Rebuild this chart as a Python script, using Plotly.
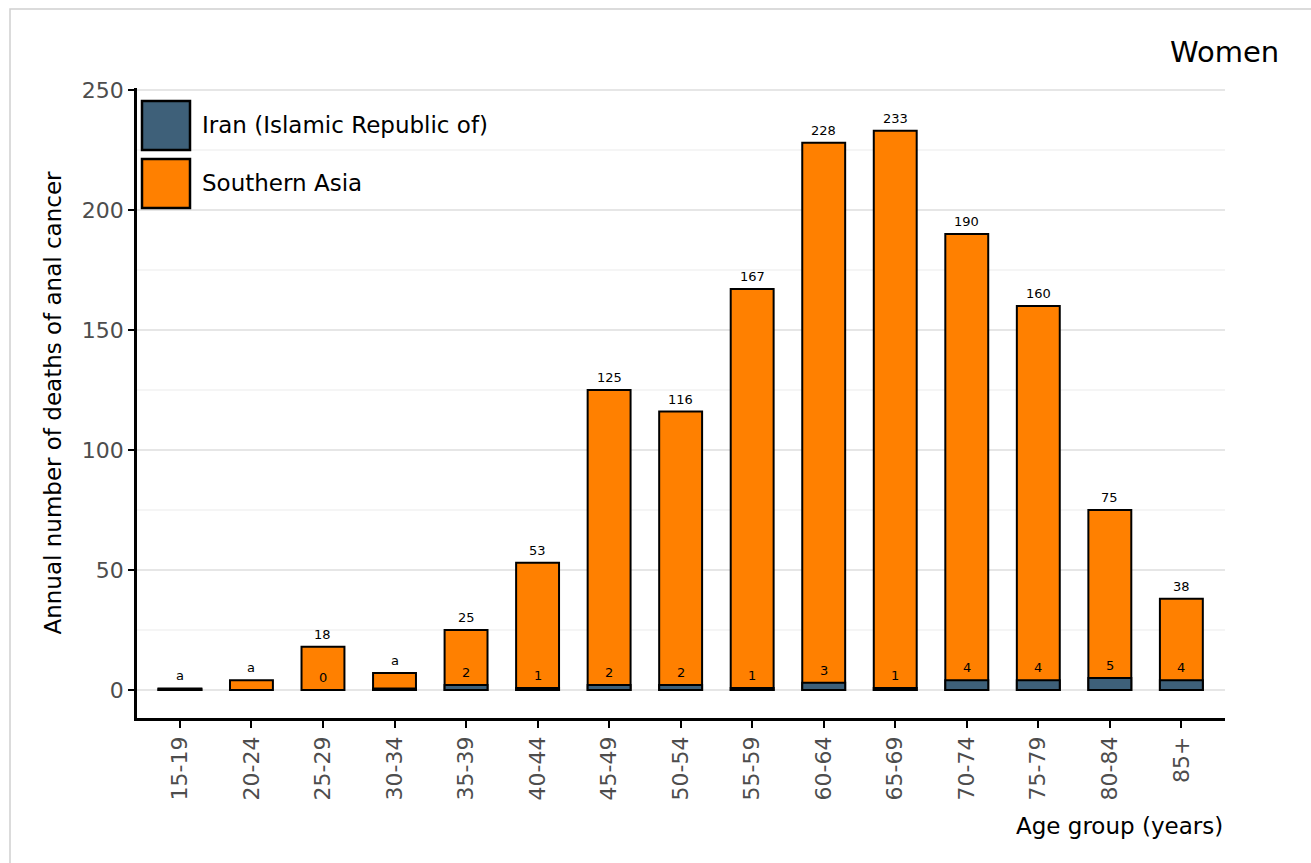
import plotly.graph_objects as go

age_groups = ["15-19", "20-24", "25-29", "30-34", "35-39", "40-44", "45-49", "50-54",
              "55-59", "60-64", "65-69", "70-74", "75-79", "80-84", "85+"]
southern_asia = [0.6, 4, 18, 7, 25, 53, 125, 116, 167, 228, 233, 190, 160, 75, 38]
iran = [0.3, 0, 0, 0.6, 2, 0.8, 2, 2, 0.8, 3, 0.8, 4, 4, 5, 4]
top_labels = ["a", "a", "18", "a", "25", "53", "125", "116", "167", "228", "233", "190", "160", "75", "38"]
inner_labels = ["", "", "0", "", "2", "1", "2", "2", "1", "3", "1", "4", "4", "5", "4"]

FONT = "DejaVu Sans"
L, R, T, B = 137, 1225, 88, 718
W, H = 1311, 863

def px(x):
    return (x - L) / (R - L)

def py(y):
    return (B - y) / (B - T)

xs = list(range(len(age_groups)))

fig = go.Figure()
fig.add_trace(go.Bar(x=xs, y=southern_asia, width=0.6, name="Southern Asia",
                     marker=dict(color="#ff8000", line=dict(color="black", width=2))))
fig.add_trace(go.Bar(x=xs, y=iran, width=0.6, name="Iran (Islamic Republic of)",
                     marker=dict(color="#3e6079", line=dict(color="black", width=2))))

annotations = []
for x, v, t in zip(xs, southern_asia, top_labels):
    annotations.append(dict(x=x, y=v, text=t, showarrow=False, yanchor="bottom", yshift=3,
                            font=dict(family=FONT, size=13, color="black")))
for x, v, t in zip(xs, iran, inner_labels):
    if t:
        annotations.append(dict(x=x, y=v, text=t, showarrow=False, yanchor="bottom", yshift=3,
                                font=dict(family=FONT, size=13, color="black")))

# legend (manual)
shapes = []
legend_items = [("Iran (Islamic Republic of)", "#3e6079", 101), ("Southern Asia", "#ff8000", 159)]
for name, col, top in legend_items:
    shapes.append(dict(type="rect", xref="paper", yref="paper",
                       x0=px(142), x1=px(190), y0=py(top + 49), y1=py(top),
                       fillcolor=col, line=dict(color="black", width=2.5), layer="above"))
    annotations.append(dict(xref="paper", yref="paper", x=px(200), y=py(top + 24), text=name,
                            showarrow=False, xanchor="left", yanchor="middle",
                            font=dict(family=FONT, size=23, color="black")))

# outer frame
shapes.append(dict(type="rect", xref="paper", yref="paper",
                   x0=px(10), x1=px(1330), y0=py(880), y1=py(9),
                   line=dict(color="#d0d0d0", width=1.5), fillcolor="rgba(0,0,0,0)", layer="below"))

annotations.append(dict(xref="paper", yref="paper", x=px(1281), y=py(52), text="Women",
                        showarrow=False, xanchor="right", yanchor="middle",
                        font=dict(family=FONT, size=29, color="black")))
annotations.append(dict(xref="paper", yref="paper", x=1, y=py(826), text="Age group (years)",
                        showarrow=False, xanchor="right", yanchor="middle",
                        font=dict(family=FONT, size=23, color="black")))

fig.update_layout(
    width=W, height=H,
    margin=dict(l=L, r=W - R, t=T, b=H - B, pad=0),
    barmode="overlay",
    showlegend=False,
    plot_bgcolor="white", paper_bgcolor="white",
    font=dict(family=FONT),
    annotations=annotations,
    shapes=shapes,
    xaxis=dict(
        tickmode="array", tickvals=xs, ticktext=age_groups, tickangle=-90,
        range=[-0.6, 14.61], showgrid=False, zeroline=False,
        showline=True, linecolor="black", linewidth=2.5,
        ticks="outside", ticklen=7, tickwidth=2, tickcolor="black",
        tickfont=dict(family=FONT, size=22, color="#4d4d4d"),
    ),
    yaxis=dict(
        range=[-11.7, 250.8], tickmode="array", tickvals=[0, 50, 100, 150, 200, 250],
        showgrid=True, gridcolor="#e6e6e6", gridwidth=2, zeroline=False,
        minor=dict(tickvals=[25, 75, 125, 175, 225], showgrid=True, gridcolor="#f5f5f5", gridwidth=2),
        showline=True, linecolor="black", linewidth=2.5,
        ticks="outside", ticklen=6, tickwidth=2, tickcolor="black",
        tickfont=dict(family=FONT, size=22, color="#4d4d4d"),
        title=dict(text="Annual number of deaths of anal cancer", standoff=14,
                   font=dict(family=FONT, size=23, color="black")),
    ),
)

fig.write_html("out.html", config={"displayModeBar": False},
               post_script="document.body.style.margin='0px';")
